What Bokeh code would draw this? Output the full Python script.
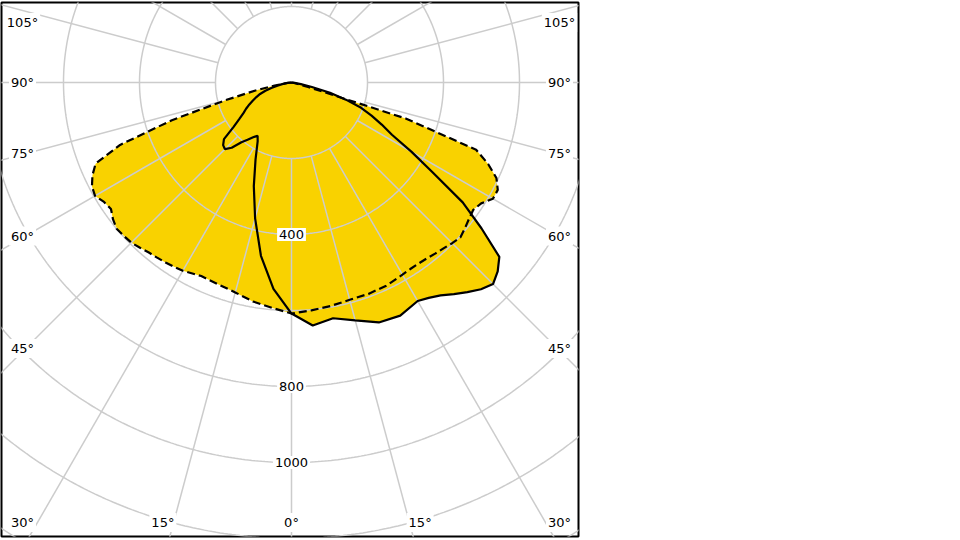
import numpy as np
from bokeh.plotting import figure
from bokeh.models import Range1d, Label
from bokeh.embed import file_html
from bokeh.resources import INLINE

# ---------------- data (cd, angle from nadir in degrees) ----------------
angles = [0, 5, 10, 15, 20, 25, 30, 32.5, 35, 37.5, 40, 42.5, 45, 47.5, 50,
          52.5, 55, 57.5, 60, 62.5, 65, 67.5, 70, 72.5, 75, 77.5, 80, 85, 90, 180]

dashed_left = [608, 595, 585, 572, 565, 562, 572, 575, 578, 581, 584, 590, 596, 598, 600,
               592, 580, 585, 597, 592, 578, 558, 480, 330, 180, 97, 45, 10, 0, 0]
dashed_right = [608, 602, 597, 592, 592, 590, 584, 582, 582, 584, 588, 592, 598, 603, 596,
                589, 584, 592, 612, 612, 595, 560, 517, 315, 45, 12, 0, 0, 0, 0]
solid_left = [608, 545, 463, 370, 290, 224, 178, 166, 176, 190, 205, 233, 248, 244, 232,
              192, 168, 150, 138, 125, 112, 100, 88, 72, 55, 38, 25, 8, 0, 0]
solid_right = [608, 642, 630, 648, 672, 677, 664, 672, 684, 702, 720, 738, 750, 736, 714,
               630, 550, 440, 365, 298, 262, 228, 195, 150, 105, 55, 25, 5, 0, 0]

ring_values = [200, 400, 600, 800, 1000, 1200, 1400]
ring_labels = ["400", "800", "1000"]
angle_ticks = [0, 15, 30, 45, 60, 75, 90, 105]

# ---------------- layout constants ----------------
PX = 0.38            # pixels per cd
K = 1.0 / PX         # cd per pixel
CX, CY = 291, 82     # centre in pixels
FL, FT, FR, FB = 1, 2, 578, 536   # frame edges in pixels

YELLOW = "#F9D200"
GRID = "#CCCCCC"


def polar(ang, val, side):
    a = np.radians(np.asarray(ang, dtype=float))
    v = np.asarray(val, dtype=float)
    return side * v * np.sin(a), -v * np.cos(a)


def closed_curve(left, right):
    xl, yl = polar(angles[::-1], left[::-1], -1)
    xr, yr = polar(angles, right, 1)
    return np.concatenate([xl, xr]), np.concatenate([yl, yr])


p = figure(width=580, height=540, output_backend="svg", toolbar_location=None,
           x_axis_type=None, y_axis_type=None,
           x_range=Range1d((FL - CX) * K, (FR - CX) * K),
           y_range=Range1d((CY - FB) * K, (CY - FT) * K),
           min_border_left=FL, min_border_right=580 - FR, min_border_top=FT,
           min_border_bottom=540 - FB)
p.xgrid.visible = False
p.ygrid.visible = False
p.outline_line_color = "black"
p.outline_line_width = 2
p.background_fill_color = "white"
p.border_fill_color = "white"

dx, dy = closed_curve(dashed_left, dashed_right)
sx, sy = closed_curve(solid_left, solid_right)

# yellow fill = union of both distributions
p.patch(dx, dy, fill_color=YELLOW, line_color=None)
p.patch(sx, sy, fill_color=YELLOW, line_color=None)

# polar grid
t = np.linspace(0, 2 * np.pi, 721)
p.multi_line([list(v * np.cos(t)) for v in ring_values],
             [list(v * np.sin(t)) for v in ring_values],
             line_color=GRID, line_width=1.5)
r0, r1 = ring_values[0], 1800
rx, ry = [], []
for a in range(0, 360, 15):
    ar = np.radians(a)
    rx.append([r0 * np.sin(ar), r1 * np.sin(ar)])
    ry.append([-r0 * np.cos(ar), -r1 * np.cos(ar)])
p.multi_line(rx, ry, line_color=GRID, line_width=1.5)

# curves
p.line(dx, dy, line_color="black", line_width=2.2, line_dash="8 4")
p.line(sx, sy, line_color="black", line_width=2.2)


def add_label(x, y, txt):
    kw = dict(x=x, y=y, text=txt, text_align="center", text_baseline="middle",
              text_font="DejaVu Sans", text_font_size="13px", text_color="#000000",
              background_fill_color="white")
    try:
        lab = Label(padding=2, **kw)
    except Exception:
        lab = Label(**kw)
    p.add_layout(lab)


# ring labels along the 0 deg line
for txt in ring_labels:
    add_label(0, -float(txt), txt)

# angle labels near the frame edges
HW = 266 * K                 # horizontal reach of side labels
DB = 480 * K                 # vertical reach used for bottom labels
XMIN, XMAX = (22 - CX) * K, (559 - CX) * K
YBOT, YTOP = (CY - 522) * K, (CY - 22) * K
for a in angle_ticks:
    ar = np.radians(a)
    for side in ([1] if a == 0 else [-1, 1]):
        if a >= 45:
            y = -HW * np.cos(ar) / np.sin(ar)
            y = min(max(y, YBOT), YTOP)
            x = XMIN if side < 0 else XMAX
        else:
            y = YBOT
            x = side * DB * np.tan(ar)
            x = min(max(x, XMIN), XMAX)
        add_label(x, y, f"{a}°")

open("out.html", "w").write(file_html(p, INLINE))
